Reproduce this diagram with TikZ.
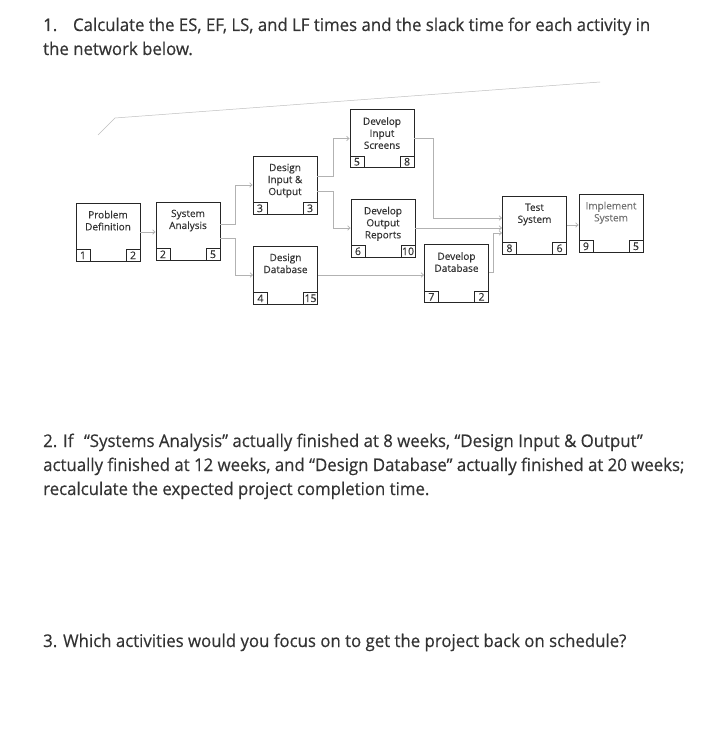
\documentclass[tikz,border=0pt]{standalone}
\usepackage{fontspec}
\setmainfont{Open Sans}
\newfontfamily\qfont[FakeStretch=0.96,FakeBold=0.4]{Open Sans}
\newfontfamily\lfont[FakeBold=0.3]{Open Sans}
\usetikzlibrary{arrows.meta}
\definecolor{ink}{HTML}{333333}
\newcommand\activity[7]{%
  \node[actbox] (#1) at (#2,#3) {};
  \node[actlabel,text=#7,anchor=north] (#1-t) at ([yshift=-8pt]#1.north) {#4};
  \node[numbox,anchor=south west] (#1-a) at (#1.south west) {#5};
  \node[numbox,anchor=south east] (#1-b) at (#1.south east) {#6};
}
\begin{document}
\begin{tikzpicture}[x=1pt,y=-1pt,
  actbox/.style={draw=black!85,line width=0.9pt,minimum width=64pt,minimum height=58pt,inner sep=0pt},
  actlabel/.style={align=center,inner sep=0pt,font=\lfont\fontsize{10}{12}\selectfont},
  numbox/.style={draw=black!85,line width=0.8pt,minimum width=14pt,minimum height=11.5pt,inner sep=1pt,
     text=ink,font=\lfont\fontsize{10.5}{10}\selectfont},
  conn/.style={draw=black!30,line width=0.7pt,-{Straight Barb[length=2.5pt,width=4.5pt]}},
  qtext/.style={inner sep=0pt,text=ink,font=\qfont\fontsize{17.5}{20}\selectfont},
  scan/.style={draw=black!25,line width=0.5pt}]
\useasboundingbox[fill=white] (0,0) rectangle (717,749);

% questions
\node[qtext,anchor=base west] (q1a) at (43,31) {1.\hspace{0.9em}Calculate the ES, EF, LS, and LF times and the slack time for each activity in};
\node[qtext,anchor=base west] (q1b) at (43,55) {the network below.};
\node[qtext,anchor=base west] (q2a) at (43,447) {2. If\hspace{0.6em}“Systems Analysis” actually finished at 8 weeks, “Design Input \& Output”};
\node[qtext,anchor=base west] (q2b) at (43,471) {actually finished at 12 weeks, and “Design Database” actually finished at 20 weeks;};
\node[qtext,anchor=base west] (q2c) at (43,495) {recalculate the expected project completion time.};
\node[qtext,anchor=base west] (q3) at (43,647) {3. Which activities would you focus on to get the project back on schedule?};

% faint scan line
\coordinate (s0) at (98,135);
\coordinate (s1) at (115,118);
\coordinate (s2) at (600,82);
\draw[scan] (s0) -- (s1) -- (s2);

% activities
\activity{PD}{108}{232}{Problem\\Definition}{1}{2}{ink}
\activity{SA}{188}{231}{System\\Analysis}{2}{5}{ink}
\activity{DIO}{285}{185}{Design\\Input \&\\Output}{3}{3}{ink}
\activity{DD}{285.5}{275}{Design\\Database}{4}{15}{ink}
\activity{DIS}{382}{138.5}{Develop\\Input\\Screens}{5}{8}{ink}
\activity{DOR}{383}{228}{Develop\\Output\\Reports}{6}{10}{ink}
\activity{DevDB}{456.5}{273.5}{Develop\\Database}{7}{2}{ink}
\activity{TS}{534.5}{225}{Test\\System}{8}{6}{ink}
\activity{IS}{611}{223}{Implement\\System}{9}{5}{black!55}

% connectors
\draw[conn] (PD.east) -- (PD.east -| SA.west);
\draw[conn] ([yshift=7pt]SA.east) -- ++(15,0) |- (DIO.west);
\draw[conn] ([yshift=-7pt]SA.east) -- ++(15,0) |- (DD.west);
\draw[conn] ([yshift=9pt]DIO.east) -- ++(16,0) |- (DIS.west);
\draw[conn] ([yshift=-6pt]DIO.east) -- ++(16,0) |- (DOR.west);
\draw[conn] (DD.east) -- (DD.east -| DevDB.west);
\draw[conn] (DIS.east) -- ++(19,0) |- ([yshift=7pt]TS.west);
\draw[conn] (DOR.east) -- (DOR.east -| TS.west);
\draw[conn] ([yshift=1pt]DevDB.east) -- ++(4,0) |- ([yshift=-8pt]TS.west);
\draw[conn] (TS.east) -- (TS.east -| IS.west);
\end{tikzpicture}
\end{document}
